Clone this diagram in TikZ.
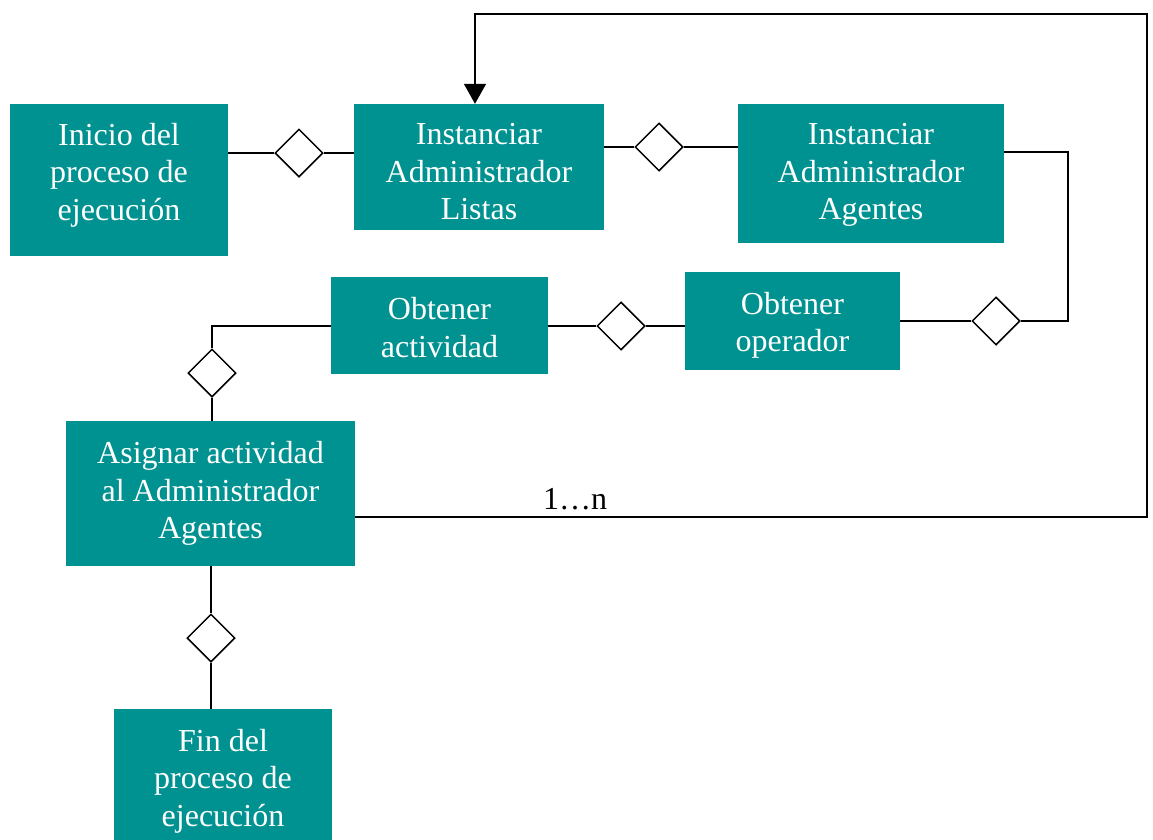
\documentclass[tikz,border=0pt]{standalone}
\usepackage{fontspec}
\setmainfont{Liberation Serif}
\usetikzlibrary{shapes.geometric,arrows.meta}
\definecolor{teal1}{RGB}{0,145,145}
\begin{document}
\begin{tikzpicture}[x=1pt,y=-1pt,
 box/.style={fill=teal1, draw=none, inner sep=0pt},
 txt/.style={text=white, align=center, font=\fontsize{32}{37.5}\selectfont, inner sep=0pt},
 dia/.style={diamond, draw=black, line width=1.5pt, fill=white, inner sep=0pt, minimum width=48pt, minimum height=48pt},
 conn/.style={draw=black, line width=1.5pt}]
\useasboundingbox (0,0) rectangle (1153,839);
\node[box, minimum width=218pt, minimum height=152pt] (ini) at (119,180) {};
\node[box, minimum width=250pt, minimum height=126pt] (lis) at (479,167) {};
\node[box, minimum width=266pt, minimum height=139pt] (age) at (871,173.5) {};
\node[box, minimum width=215pt, minimum height=98pt] (ope) at (792.5,321) {};
\node[box, minimum width=217pt, minimum height=97pt] (act) at (439.5,325.5) {};
\node[box, minimum width=289pt, minimum height=145pt] (asi) at (210.5,493.5) {};
\node[box, minimum width=218pt, minimum height=136pt] (fin) at (223,777) {};

\node[txt] (ini-t) at ([yshift=5pt]ini.center) {Inicio del\\proceso de\\ejecución};
\node[txt] (lis-t) at ([yshift=-5pt]lis.center) {Instanciar\\Administrador\\Listas};
\node[txt] (age-t) at ([yshift=-1.5pt]age.center) {Instanciar\\Administrador\\Agentes};
\node[txt] (ope-t) at ([yshift=-4.5pt]ope.center) {Obtener\\operador};
\node[txt] (act-t) at ([yshift=-2pt]act.center) {Obtener\\actividad};
\node[txt] (asi-t) at (asi.center) {Asignar actividad\\al Administrador\\Agentes};
\node[txt] (fin-t) at ([yshift=-4pt]fin.center) {Fin del\\proceso de\\ejecución};

\node[dia] (d1) at (299,153) {};
\node[dia] (d2) at (659,147) {};
\node[dia] (d4) at (996,321) {};
\node[dia] (d5) at (621,326) {};
\node[dia] (d6) at (212,373) {};
\node[dia] (d7) at (211,638) {};

\draw[conn] (d1.west) -- (d1.west -| ini.east);
\draw[conn] (d1.east) -- (d1.east -| lis.west);
\draw[conn] (d2.west) -- (d2.west -| lis.east);
\draw[conn] (d2.east) -- (d2.east -| age.west);
\coordinate (c1) at (1068,152);
\draw[conn] (c1 -| age.east) -- (c1) |- (d4.east);
\draw[conn] (d4.west) -- (d4.west -| ope.east);
\draw[conn] (d5.east) -- (d5.east -| ope.west);
\draw[conn] (d5.west) -- (d5.west -| act.east);
\draw[conn] (act.west |- d5) -| (d6.north);
\draw[conn] (d6.south) -- (asi.north -| d6);
\draw[conn] (asi.south -| d7) -- (d7.north);
\draw[conn] (d7.south) -- (fin.north -| d7);

\coordinate (r1) at (1147,517);
\coordinate (r2) at (1147,14);
\coordinate (r3) at (475,14);
\draw[conn, -{Triangle[length=20pt,width=22pt]}] (r1 -| asi.east) -- (r1) -- (r2) -- (r3) -- (r3 |- lis.north);
\node[font=\fontsize{32}{37.5}\selectfont, anchor=base, inner sep=0pt] (lab) at (575,509) {1…n};
\end{tikzpicture}
\end{document}
